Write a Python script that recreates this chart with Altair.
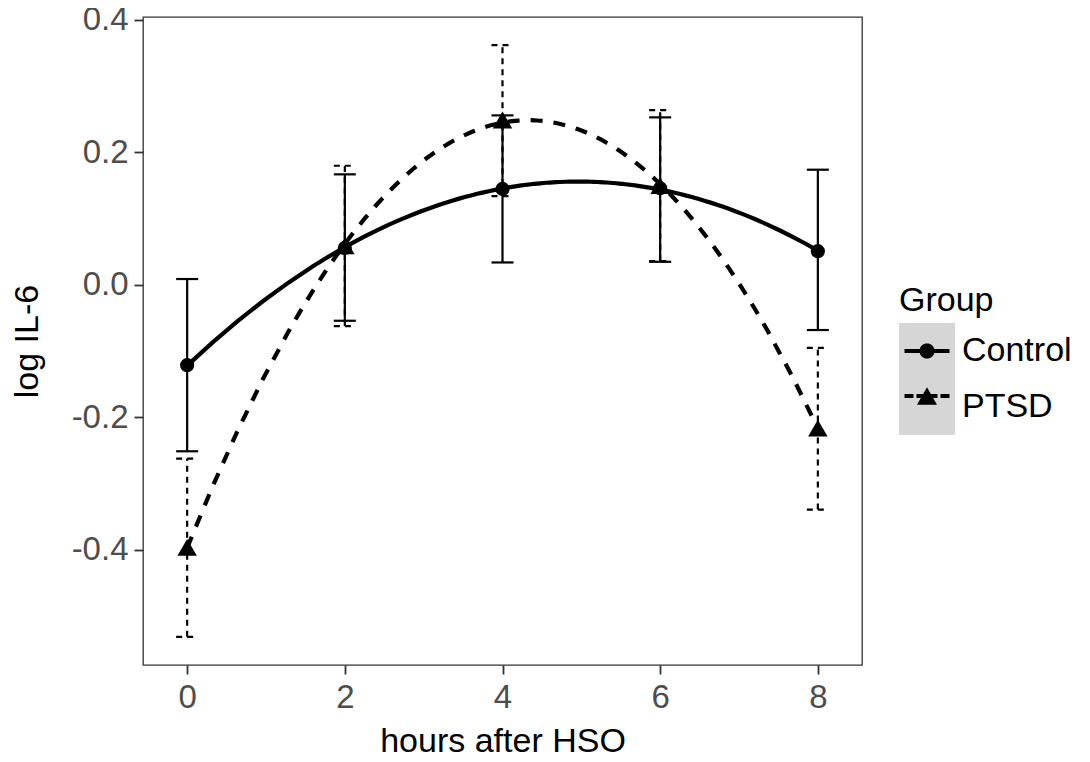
import altair as alt
import pandas as pd
import numpy as np

# ---------------- data ----------------
hours = [0, 2, 4, 6, 8]
groups = ["Control", "PTSD"]
control_mean = [-0.121, 0.056, 0.145, 0.146, 0.051]
control_lower = [-0.251, -0.054, 0.034, 0.035, -0.068]
control_upper = [0.009, 0.167, 0.256, 0.253, 0.174]
ptsd_mean = [-0.396, 0.059, 0.249, 0.150, -0.216]
ptsd_lower = [-0.531, -0.062, 0.134, 0.036, -0.339]
ptsd_upper = [-0.262, 0.180, 0.362, 0.264, -0.095]
x_ticks = [0, 2, 4, 6, 8]
y_ticks = [-0.4, -0.2, 0.0, 0.2, 0.4]

rows = []
for g, ms, los, ups in [("Control", control_mean, control_lower, control_upper),
                        ("PTSD", ptsd_mean, ptsd_lower, ptsd_upper)]:
    for h, m, lo, up in zip(hours, ms, los, ups):
        rows.append({"Group": g, "hour": h, "mean": m, "lower": lo, "upper": up})
df = pd.DataFrame(rows)

# ---------------- style ----------------
FONT = "Liberation Sans"
FS_LAB = 33
FS_TIT = 34
GREY = "#d6d6d6"

x_scale = alt.Scale(domain=[-0.56, 8.56], nice=False, zero=False)
y_scale = alt.Scale(domain=[-0.5736, 0.4045], nice=False, zero=False)

x_axis = alt.Axis(values=x_ticks, format="d", title="hours after HSO", grid=False, domain=False,
                  tickSize=9, tickWidth=1.8, tickColor="#333333",
                  labelFont=FONT, labelFontSize=FS_LAB, labelColor="#4d4d4d", labelPadding=7,
                  titleFont=FONT, titleFontSize=FS_TIT, titleColor="black", titleFontWeight="normal",
                  titleBaseline="alphabetic", titleY=86)
y_axis = alt.Axis(values=y_ticks, title="log IL-6", grid=False, domain=False,
                  labelExpr="datum.value < 0 ? '-' + format(-datum.value, '.1f') : format(datum.value, '.1f')",
                  tickSize=9, tickWidth=1.8, tickColor="#333333",
                  labelFont=FONT, labelFontSize=FS_LAB, labelColor="#4d4d4d", labelPadding=6,
                  titleFont=FONT, titleFontSize=FS_TIT, titleColor="black", titleFontWeight="normal",
                  titleAngle=270, titleBaseline="alphabetic", titleAlign="center",
                  titleX=-106, titleY=324)


def X():
    return alt.X("hour:Q", scale=x_scale, axis=x_axis)


def Y(field):
    return alt.Y(f"{field}:Q", scale=y_scale, axis=y_axis)


styles = {
    "Control": dict(bar_dash=None, curve_dash=None, shape="circle", size=200),
    "PTSD": dict(bar_dash=[6, 5], curve_dash=[12, 11], shape="triangle-up", size=380),
}

base = alt.Chart(df)
bar_layers, curve_layers, point_layers = [], [], []
for g in groups:
    s = styles[g]
    b = base.transform_filter(alt.datum.Group == g)
    rule_kw = dict(color="black", strokeWidth=2.2)
    if s["bar_dash"]:
        rule_kw["strokeDash"] = s["bar_dash"]
    bar_layers.append(b.mark_rule(**rule_kw).encode(x=X(), y=Y("lower"), y2="upper:Q"))
    for f in ["upper", "lower"]:
        bar_layers.append(b.mark_rule(xOffset=-11, x2Offset=11, **rule_kw)
                          .encode(x=X(), x2="hour:Q", y=Y(f)))
    line_kw = dict(color="black", strokeWidth=4.2)
    if s["curve_dash"]:
        line_kw["strokeDash"] = s["curve_dash"]
    curve_layers.append(b.transform_regression("hour", "mean", method="poly", order=2)
                        .mark_line(**line_kw).encode(x=X(), y=Y("mean")))
    point_layers.append(b.mark_point(shape=s["shape"], filled=True, size=s["size"],
                                     color="black", opacity=1)
                        .encode(x=X(), y=Y("mean")))

# ---------------- legend symbols (line + marker) ----------------
U = 28.0  # px per unit for symbol size 56*56


def rect(x0, x1, y0, y1):
    return (f"M{x0/U:.4f},{y0/U:.4f}L{x1/U:.4f},{y0/U:.4f}"
            f"L{x1/U:.4f},{y1/U:.4f}L{x0/U:.4f},{y1/U:.4f}Z")


def circ(r, n=28):
    pts = [(r * np.cos(t) / U, r * np.sin(t) / U) for t in np.linspace(0, 2 * np.pi, n, endpoint=False)]
    return "M" + "L".join(f"{a:.4f},{b:.4f}" for a, b in pts) + "Z"


def tri(half_w):
    h = half_w * 0.866
    return (f"M0,{-h/U:.4f}L{half_w/U:.4f},{h/U:.4f}L{-half_w/U:.4f},{h/U:.4f}Z")


LW = 1.9
path_control = rect(-22.5, 22.5, -LW, LW) + circ(7.6)
path_ptsd = (rect(-22.5, -13.5, -LW, LW) + rect(-10.5, -1.5, -LW, LW) +
             rect(1.5, 10.5, -LW, LW) + rect(13.5, 22.5, -LW, LW) + tri(10))

LEG_X = 756
LEG_Y = 267
common_leg = dict(orient="none", legendX=LEG_X, legendY=LEG_Y, title="Group",
                  titleFont=FONT, titleFontSize=FS_TIT, titleColor="black", titleFontWeight="normal",
                  titlePadding=5, labelFont=FONT, labelFontSize=FS_TIT, labelColor="black",
                  labelOffset=7, rowPadding=0, padding=0, symbolSize=3136,
                  symbolStrokeWidth=0, symbolOpacity=1)

leg_bg = base.mark_point(filled=True, opacity=0).encode(
    x=X(), y=Y("mean"),
    color=alt.Color("Group:N", scale=alt.Scale(range=[GREY, GREY]),
                    legend=alt.Legend(symbolType="square", zindex=0, **common_leg)))

leg_fg = base.transform_calculate(grp="datum.Group").mark_point(
    filled=True, opacity=0, color="black").encode(
    x=X(), y=Y("mean"),
    shape=alt.Shape("grp:N", scale=alt.Scale(range=[path_control, path_ptsd]),
                    legend=alt.Legend(symbolFillColor="black", titleOpacity=0, labelOpacity=0,
                                      labelExpr="''", zindex=1, **common_leg)))

chart = alt.layer(*bar_layers, *curve_layers, *point_layers, leg_bg, leg_fg).properties(
    width=719, height=648,
    background="white",
    padding={"left": 135, "top": 9, "right": 220, "bottom": 95},
    autosize=alt.AutoSizeParams(type="none"),
).configure_view(stroke="#333333", strokeWidth=1.3)

chart.save("out.html", embed_options={"renderer": "svg", "actions": False})
